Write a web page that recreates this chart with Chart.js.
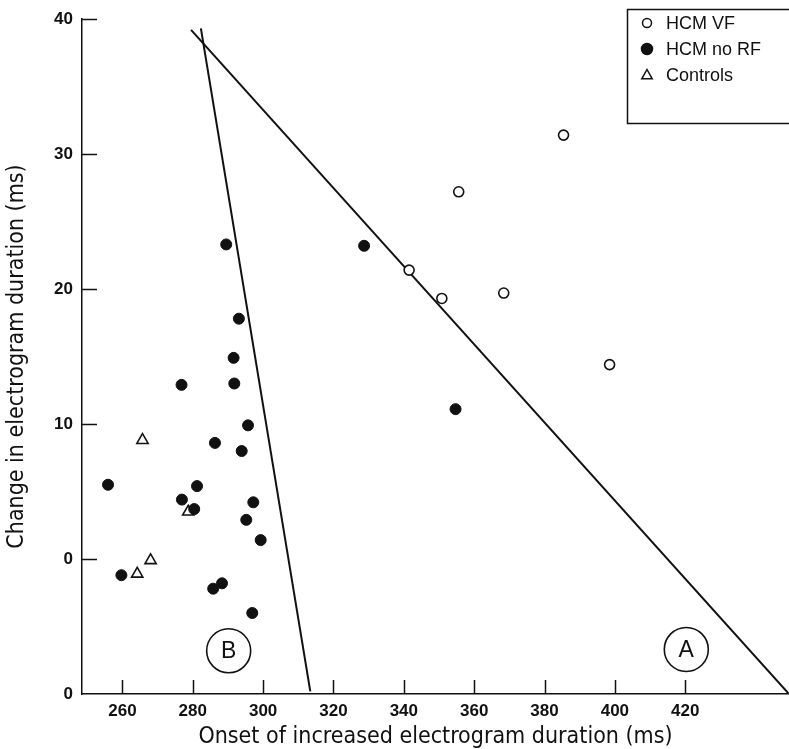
<!DOCTYPE html>
<html>
<head>
<meta charset="utf-8">
<script src="https://cdn.jsdelivr.net/npm/chart.js@4.4.1/dist/chart.umd.min.js"></script>
<style>
  html, body { margin: 0; padding: 0; background: #fff; }
  #wrap { width: 789px; height: 749px; }
</style>
</head>
<body>
<div id="wrap"><canvas id="myChart"></canvas></div>
<script>
var xTicks = [260, 280, 300, 320, 340, 360, 380, 400, 420];
var yTicks = [-10, 0, 10, 20, 30, 40];
var yTickLabels = ['0', '0', '10', '20', '30', '40'];

var legendNames = ['HCM VF', 'HCM no RF', 'Controls'];

var vfX = [385.4, 355.6, 341.5, 350.8, 368.4, 398.5];
var vfY = [31.4, 27.2, 21.4, 19.3, 19.7, 14.4];

var noRfX = [328.7, 354.7, 289.5, 293.1, 291.6, 276.8, 291.8, 295.7, 286.3, 293.9, 281.2,
             276.9, 280.4, 297.2, 295.2, 299.3, 285.8, 288.3, 296.9, 255.9, 259.7];
var noRfY = [23.2, 11.1, 23.3, 17.8, 14.9, 12.9, 13.0, 9.9, 8.6, 8.0, 5.4,
             4.4, 3.7, 4.2, 2.9, 1.4, -2.2, -1.8, -4.0, 5.5, -1.2];

var ctrlX = [265.7, 278.7, 268.0, 264.2];
var ctrlY = [8.8, 3.5, -0.1, -1.1];

var lineAX = [279.5, 449.5];
var lineAY = [39.2, -10];
var lineBX = [282.3, 313.4];
var lineBY = [39.3, -9.8];

var markLabels = ['B', 'A'];
var markX = [290.2, 420.3];
var markY = [-6.8, -6.7];

function pts(xs, ys) {
  return xs.map(function (x, i) { return { x: x, y: ys[i] }; });
}

var ink = '#111';

// tick marks point into the plot, like the printed figure
var innerTicks = {
  id: 'innerTicks',
  afterDraw: function (chart) {
    var ctx = chart.ctx, a = chart.chartArea;
    var xs = chart.scales.x, ys = chart.scales.y;
    ctx.save();
    ctx.strokeStyle = ink;
    ctx.lineWidth = 1.5;
    ctx.beginPath();
    xTicks.forEach(function (v) {
      var px = Math.round(xs.getPixelForValue(v)) + 0.5;
      ctx.moveTo(px, a.bottom);
      ctx.lineTo(px, a.bottom - 14);
    });
    yTicks.forEach(function (v) {
      if (v === ys.min) return;
      var py = Math.round(ys.getPixelForValue(v)) + 0.5;
      ctx.moveTo(a.left, py);
      ctx.lineTo(a.left + 15, py);
    });
    ctx.stroke();
    ctx.restore();
  }
};

// letters inside the A / B circles
var markText = {
  id: 'markText',
  afterDatasetsDraw: function (chart) {
    var ctx = chart.ctx;
    var meta = chart.getDatasetMeta(5);
    ctx.save();
    ctx.fillStyle = ink;
    ctx.font = '23px "Liberation Sans", Arial, sans-serif';
    ctx.textAlign = 'center';
    ctx.textBaseline = 'middle';
    meta.data.forEach(function (el, i) {
      ctx.fillText(markLabels[i], el.x, el.y + 1);
    });
    ctx.restore();
  }
};

// boxed legend in the top right corner
var boxLegend = {
  id: 'boxLegend',
  afterDraw: function (chart) {
    var ctx = chart.ctx;
    var left = 627, top = 9, right = 789, bottom = 123;
    ctx.save();
    ctx.strokeStyle = ink;
    ctx.lineWidth = 1.5;
    ctx.strokeRect(left + 0.5, top + 0.5, right - left + 2, bottom - top);
    ctx.font = '18px "Liberation Sans", Arial, sans-serif';
    ctx.textBaseline = 'middle';
    ctx.fillStyle = ink;
    var rows = [23, 49, 75];
    legendNames.forEach(function (name, i) {
      var ds = chart.data.datasets[i];
      var y = rows[i], x = 647;
      ctx.beginPath();
      if (ds.pointStyle === 'triangle') {
        var r = 5.5;
        ctx.moveTo(x, y - r);
        ctx.lineTo(x + r * 0.95, y + r * 0.7);
        ctx.lineTo(x - r * 0.95, y + r * 0.7);
        ctx.closePath();
      } else {
        ctx.arc(x, y, ds.pointBackgroundColor === ink ? 5.5 : 4.5, 0, Math.PI * 2);
      }
      ctx.fillStyle = ds.pointBackgroundColor;
      ctx.fill();
      ctx.lineWidth = 1.5;
      ctx.stroke();
      ctx.fillStyle = ink;
      ctx.fillText(name, 666, y + 1);
    });
    ctx.restore();
  }
};

var myChart = new Chart(document.getElementById('myChart'), {
  type: 'scatter',
  data: {
    datasets: [{
      label: legendNames[0],
      data: pts(vfX, vfY),
      pointStyle: 'circle',
      pointRadius: 5,
      pointBackgroundColor: '#fff',
      pointBorderColor: ink,
      pointBorderWidth: 1.6
    }, {
      label: legendNames[1],
      data: pts(noRfX, noRfY),
      pointStyle: 'circle',
      pointRadius: 5.5,
      pointBackgroundColor: ink,
      pointBorderColor: ink,
      pointBorderWidth: 1
    }, {
      label: legendNames[2],
      data: pts(ctrlX, ctrlY),
      pointStyle: 'triangle',
      pointRadius: 6.5,
      pointBackgroundColor: '#fff',
      pointBorderColor: ink,
      pointBorderWidth: 1.6
    }, {
      label: 'A',
      data: pts(lineAX, lineAY),
      showLine: true,
      pointRadius: 0,
      borderColor: ink,
      borderWidth: 2
    }, {
      label: 'B',
      data: pts(lineBX, lineBY),
      showLine: true,
      pointRadius: 0,
      borderColor: ink,
      borderWidth: 2
    }, {
      label: 'marks',
      data: pts(markX, markY),
      pointStyle: 'circle',
      pointRadius: 22,
      pointBackgroundColor: '#fff',
      pointBorderColor: ink,
      pointBorderWidth: 1.6
    }]
  },
  options: {
    responsive: true,
    maintainAspectRatio: false,
    animation: false,
    layout: { autoPadding: false, padding: { top: 19, right: 0, left: 0, bottom: 0 } },
    elements: { point: { hoverRadius: 0 } },
    scales: {
      x: {
        type: 'linear',
        min: 248.5,
        max: 449.5,
        afterBuildTicks: function (scale) {
          scale.ticks = xTicks.map(function (v) { return { value: v }; });
        },
        afterFit: function (scale) {
          scale.height = 55;
          scale.paddingLeft = 0;
          scale.paddingRight = 0;
        },
        grid: { drawOnChartArea: false, drawTicks: false, color: ink },
        border: { display: true, color: ink, width: 1.5 },
        ticks: {
          padding: 7,
          color: ink,
          font: { family: '"Liberation Sans", Arial, sans-serif', size: 17, weight: 'bold' }
        },
        title: {
          display: true,
          text: 'Onset of increased electrogram duration (ms)',
          color: ink,
          padding: { top: 0, bottom: 0 },
          font: { family: '"Liberation Sans Narrow", "DejaVu Sans Condensed", sans-serif', size: 23, lineHeight: 1 }
        }
      },
      y: {
        type: 'linear',
        min: -10,
        max: 40,
        afterBuildTicks: function (scale) {
          scale.ticks = yTicks.map(function (v) { return { value: v }; });
        },
        afterFit: function (scale) {
          scale.width = 82;
          scale.paddingTop = 0;
          scale.paddingBottom = 0;
        },
        grid: { drawOnChartArea: false, drawTicks: false, color: ink },
        border: { display: true, color: ink, width: 1.5 },
        ticks: {
          padding: 9,
          color: ink,
          font: { family: '"Liberation Sans", Arial, sans-serif', size: 17, weight: 'bold' },
          callback: function (v, i) { return yTickLabels[i]; }
        },
        title: {
          display: true,
          text: 'Change in electrogram duration (ms)',
          color: ink,
          padding: { top: 6, bottom: 0 },
          font: { family: '"Liberation Sans Narrow", "DejaVu Sans Condensed", sans-serif', size: 23, lineHeight: 1 }
        }
      }
    },
    plugins: {
      legend: { display: false },
      tooltip: { enabled: false }
    }
  },
  plugins: [innerTicks, markText, boxLegend]
});
</script>
</body>
</html>
